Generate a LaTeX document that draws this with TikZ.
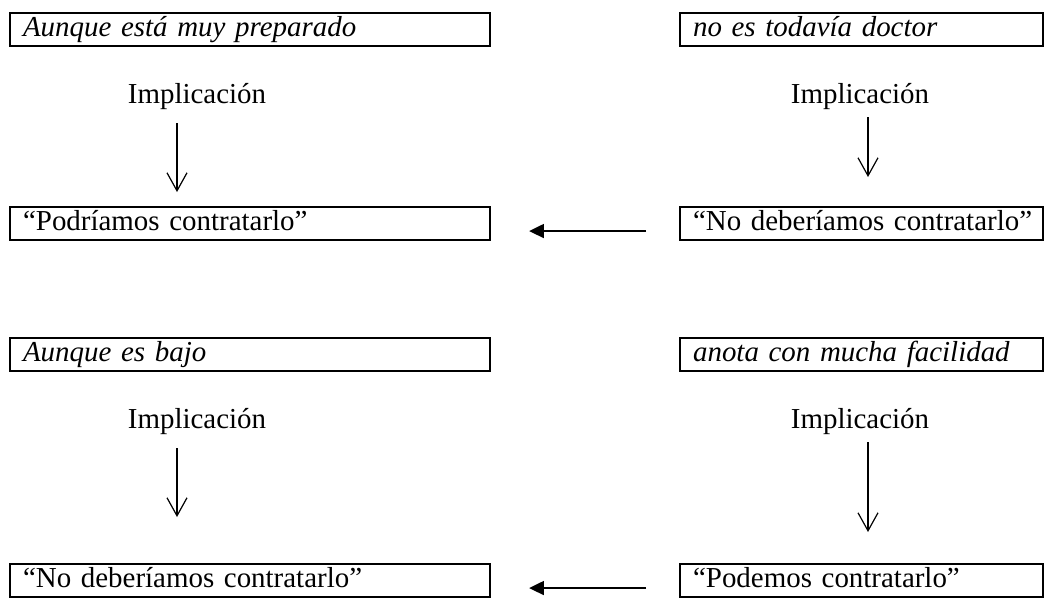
\documentclass[tikz,border=0pt]{standalone}
\usepackage{fontspec}
\setmainfont{Liberation Serif}
\usetikzlibrary{arrows.meta}

\begin{document}
\begin{tikzpicture}[x=0.75pt, y=-0.75pt, font=\fontsize{21.7}{26}\selectfont,
  caja/.style={rectangle, draw=black, line width=1.6pt, anchor=north west, inner xsep=9.75pt, inner ysep=0pt, text height=17.25pt, text depth=7.5pt, align=left},
  larga/.style={caja, text width=340.5pt},
  corta/.style={caja, text width=252.75pt},
  etiqueta/.style={inner sep=0pt, anchor=base, text depth=0pt},
  implica/.style={-{Straight Barb[length=13.5pt, width=15pt]}, line width=0.9pt},
  retorno/.style={-{Triangle[length=11pt, width=10.5pt]}, line width=1pt, shorten <=24.75pt, shorten >=28.5pt}]
\useasboundingbox (0,0) rectangle (1049,597);

% primer ejemplo
\node (concesivaA) [larga] at (9,12) {\textit{Aunque está muy preparado}};
\node (principalA) [corta] at (679,12) {\textit{no es todavía doctor}};
\node (implA) [etiqueta] at (197,103) {Implicación};
\node (implB) [etiqueta] at (860,103) {Implicación};
\node (conclusionA) [larga] at (9,206) {“Podríamos contratarlo”};
\node (conclusionB) [corta] at (679,206) {\mbox{“No deberíamos contratarlo”}};

\draw[implica, shorten <=15pt, shorten >=10.5pt] ([xshift=-15pt]implA.south) -- ([xshift=-15pt]implA.south |- conclusionA.north);
\draw[implica, shorten <=10.5pt, shorten >=21.75pt] ([xshift=6pt]implB.south) -- ([xshift=6pt]implB.south |- conclusionB.north);
\draw[retorno] ([yshift=-5.6pt]conclusionB.west) -- ([yshift=-5.6pt]conclusionA.east);

% segundo ejemplo
\node (concesivaB) [larga] at (9,337) {\textit{Aunque es bajo}};
\node (principalB) [corta] at (679,337) {\textit{anota con mucha facilidad}};
\node (implC) [etiqueta] at (197,428) {Implicación};
\node (implD) [etiqueta] at (860,428) {Implicación};
\node (conclusionC) [larga] at (9,563) {“No deberíamos contratarlo”};
\node (conclusionD) [corta] at (679,563) {“Podemos contratarlo”};

\draw[implica, shorten <=15pt, shorten >=34.5pt] ([xshift=-15pt]implC.south) -- ([xshift=-15pt]implC.south |- conclusionC.north);
\draw[implica, shorten <=10.5pt, shorten >=23.25pt] ([xshift=6pt]implD.south) -- ([xshift=6pt]implD.south |- conclusionD.north);
\draw[retorno] ([yshift=-5.6pt]conclusionD.west) -- ([yshift=-5.6pt]conclusionC.east);

\end{tikzpicture}
\end{document}
